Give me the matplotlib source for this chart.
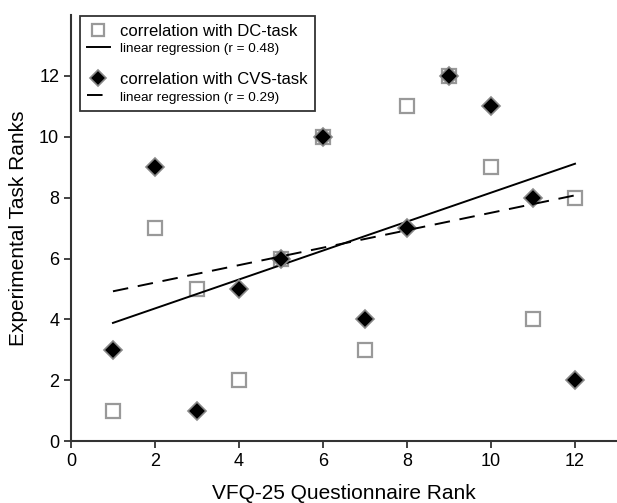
import matplotlib
matplotlib.use('Agg')
import matplotlib.pyplot as plt
from matplotlib.lines import Line2D
import numpy as np

plt.rcParams['font.family'] = ['Liberation Sans', 'DejaVu Sans']

ranks = [1, 2, 3, 4, 5, 6, 7, 8, 9, 10, 11, 12]
dc_task = [1, 7, 5, 2, 6, 10, 3, 11, 12, 9, 4, 8]
cvs_task = [3, 9, 1, 5, 6, 10, 4, 7, 12, 11, 8, 2]

fig = plt.figure(figsize=(6.17, 5.03), dpi=100)
ax = fig.add_axes([0.115, 0.123, 0.885, 0.847])

# regression lines
x = np.array(ranks)
b_dc = np.polyfit(x, dc_task, 1)
b_cvs = np.polyfit(x, cvs_task, 1)
xs = np.array([min(ranks), max(ranks)])

sq, = ax.plot(ranks, dc_task, 's', ms=9.5, mfc='white', mec='#999999', mew=1.6,
              label='correlation with DC-task')
l1, = ax.plot(xs, np.polyval(b_dc, xs), '-', color='black', lw=1.4,
              label='linear regression (r = 0.48)')
dm, = ax.plot(ranks, cvs_task, 'D', ms=9, mfc='black', mec='#888888', mew=1.2,
              label='correlation with CVS-task')
l2, = ax.plot(xs, np.polyval(b_cvs, xs), '--', color='black', lw=1.4, dashes=(8, 5),
              label='linear regression (r = 0.29)')
blank = Line2D([], [], linestyle='none', label=' ')

ax.set_xlim(0, 13)
ax.set_ylim(0, 14)
ax.set_xticks([0, 2, 4, 6, 8, 10, 12])
ax.set_yticks([0, 2, 4, 6, 8, 10, 12])
ax.spines['top'].set_visible(False)
ax.spines['right'].set_visible(False)
for s in ['left', 'bottom']:
    ax.spines[s].set_linewidth(1.5)
    ax.spines[s].set_color('#333333')
ax.tick_params(direction='out', length=5, width=1.3, labelsize=13, color='#333333')

ax.set_xlabel('VFQ-25 Questionnaire Rank', fontsize=15, labelpad=10)
ax.set_ylabel('Experimental Task Ranks', fontsize=15, labelpad=8)

leg = ax.legend(handles=[sq, l1, blank, dm, l2], loc='upper left', bbox_to_anchor=(0.01, 1.005),
                fontsize=12, frameon=True, fancybox=False, edgecolor='black',
                handlelength=1.35, labelspacing=0.12, borderpad=0.45, handletextpad=0.6,
                borderaxespad=0.2)
leg.get_frame().set_linewidth(1.3)
texts = leg.get_texts()
texts[1].set_fontsize(9.7)
texts[4].set_fontsize(9.7)
texts[2].set_fontsize(2)
leg.legend_handles[0].set_markersize(8)
leg.legend_handles[3].set_markersize(8)

fig.savefig('out.png', dpi=100)
